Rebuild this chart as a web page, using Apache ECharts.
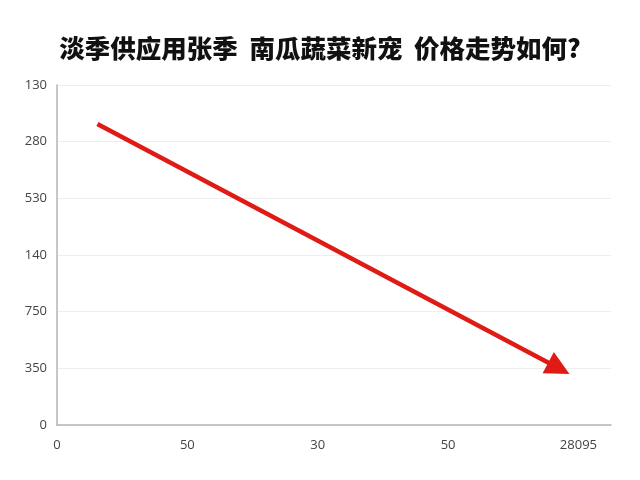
<!DOCTYPE html>
<html><head><meta charset="utf-8">
<script src="https://cdn.jsdelivr.net/npm/echarts@6/dist/echarts.min.js"></script>
<style>html,body{margin:0;padding:0;background:#fff}#c{width:640px;height:480px}</style>
</head><body><div id="c"></div>
<script>
const titleText = '淡季供应用张季  南瓜蔬菜新宠  价格走势如何?';
const xTickLabels = ['0', '50', '30', '50', '28095'];
const yTickLabels = ['0', '350', '750', '140', '530', '280', '130'];
const trendX = [0.31, 3.85];
const trendY = [5.31, 1.0];

const chart = echarts.init(document.getElementById('c'));
chart.setOption({
  backgroundColor: '#ffffff',
  title: {
    text: titleText, left: 'center', top: 31,
    textStyle: { fontFamily: 'Noto Sans CJK SC', fontWeight: 900, fontSize: 25.5, color: '#111' }
  },
  grid: { left: 57, right: 29, top: 85, bottom: 55 },
  xAxis: {
    type: 'value', min: 0, max: 4.25, interval: 1,
    axisLine: { show: true, lineStyle: { color: '#b5b5b5', width: 1.5 } },
    axisTick: { show: false },
    splitLine: { show: false },
    axisLabel: {
      showMaxLabel: false, margin: 14,
      color: '#444', fontSize: 13, fontFamily: 'Open Sans',
      formatter: v => { const i = Math.round(v); return Math.abs(v - i) < 1e-6 && xTickLabels[i] !== undefined ? xTickLabels[i] : ''; }
    }
  },
  yAxis: {
    type: 'value', min: 0, max: 6, interval: 1,
    axisLine: { show: true, lineStyle: { color: '#b5b5b5', width: 1.5 } },
    axisTick: { show: false },
    splitLine: { show: true, lineStyle: { color: '#eeeeee', width: 1 } },
    axisLabel: {
      margin: 10, color: '#444', fontSize: 13, fontFamily: 'Open Sans',
      formatter: v => yTickLabels[Math.round(v)]
    }
  },
  series: [{
    type: 'line', data: [], silent: true,
    markLine: {
      silent: true, animation: false,
      symbol: ['none', 'triangle'], symbolSize: [24, 24],
      label: { show: false },
      lineStyle: { color: '#e01b16', width: 4.5, type: 'solid' },
      data: [[{ coord: [trendX[0], trendY[0]] }, { coord: [trendX[1], trendY[1]] }]]
    }
  }],
  animation: false
});
</script></body></html>
